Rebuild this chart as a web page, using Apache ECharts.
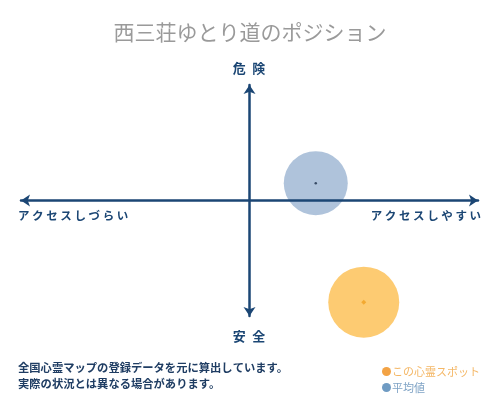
<!DOCTYPE html>
<html>
<head>
<meta charset="utf-8">
<script src="https://cdn.jsdelivr.net/npm/echarts@6/dist/echarts.min.js"></script>
<style>html,body{margin:0;padding:0;background:#fff}#c{width:500px;height:400px}</style>
</head>
<body>
<div id="c"></div>
<script>
const titleText = '西三荘ゆとり道のポジション';
const seriesNames = ['この心霊スポット', '平均値'];
const spotPoint = [50, -88];
const avgPoint = [29, 15];
const axisLabels = { top: '危\u2002険', bottom: '安\u2002全', left: 'ア ク セ ス し づ ら い', right: 'ア ク セ ス し や す い' };
const footerLines = ['全国心霊マップの登録データを元に算出しています。', '実際の状況とは異なる場合があります。'];

const FONT = '"Noto Sans CJK JP", "Noto Sans", sans-serif';
const NAVY = '#1b4674';
const chart = echarts.init(document.getElementById('c'), null, { renderer: 'canvas' });

const axisCommon = {
  type: 'value', min: -100, max: 100, z: 5,
  axisTick: { show: false }, axisLabel: { show: false }, splitLine: { show: false },
  axisLine: { show: true, onZero: true, symbol: ['arrow', 'arrow'], symbolSize: [9, 9],
    lineStyle: { color: NAVY, width: 2.5 } }
};

chart.setOption({
  animation: false,
  backgroundColor: '#fff',
  title: { text: titleText, left: 'center', top: 17,
    textStyle: { color: '#9a9a9a', fontSize: 21, fontWeight: 'normal', fontFamily: FONT } },
  grid: { left: 21, right: 22, top: 85, bottom: 84 },
  xAxis: axisCommon,
  yAxis: axisCommon,
  legend: {
    orient: 'vertical', left: 377, top: 361, itemWidth: 9, itemHeight: 9, itemGap: 5, icon: 'circle',
    textStyle: { fontSize: 11, fontFamily: FONT, padding: [0, 0, 0, -4] },
    data: [
      { name: seriesNames[0], itemStyle: { color: '#f3a345' }, textStyle: { color: '#f4b766' } },
      { name: seriesNames[1], itemStyle: { color: '#6f9bc3' }, textStyle: { color: '#7fa3c5' } }
    ]
  },
  series: [
    { name: seriesNames[0], type: 'scatter', data: [spotPoint], symbolSize: 71,
      itemStyle: { color: '#fdcb72', opacity: 1 }, z: 2 },
    { name: seriesNames[1], type: 'scatter', data: [avgPoint], symbolSize: 64,
      itemStyle: { color: '#afc3db', opacity: 1 }, z: 2 },
    { name: 'spotDot', type: 'scatter', data: [spotPoint], symbol: 'diamond', symbolSize: 5,
      itemStyle: { color: '#f0a020' }, z: 3 },
    { name: 'avgDot', type: 'scatter', data: [avgPoint], symbolSize: 2.5,
      itemStyle: { color: '#1b2f4a' }, z: 3 }
  ],
  graphic: [
    { type: 'text', x: 249, y: 68, style: { text: axisLabels.top, fill: NAVY, font: 'bold 13px ' + FONT, align: 'center', verticalAlign: 'middle' } },
    { type: 'text', x: 249, y: 336, style: { text: axisLabels.bottom, fill: NAVY, font: 'bold 13px ' + FONT, align: 'center', verticalAlign: 'middle' } },
    { type: 'text', x: 18, y: 216, style: { text: axisLabels.left, fill: NAVY, font: 'bold 11.5px ' + FONT, align: 'left', verticalAlign: 'middle' } },
    { type: 'text', x: 481, y: 216, style: { text: axisLabels.right, fill: NAVY, font: 'bold 11.5px ' + FONT, align: 'right', verticalAlign: 'middle' } },
    { type: 'text', x: 18, y: 368, style: { text: footerLines[0], fill: '#1f3d63', font: 'bold 11.3px ' + FONT, align: 'left', verticalAlign: 'middle' } },
    { type: 'text', x: 18, y: 384, style: { text: footerLines[1], fill: '#1f3d63', font: 'bold 11.3px ' + FONT, align: 'left', verticalAlign: 'middle' } }
  ]
});
</script>
</body>
</html>
